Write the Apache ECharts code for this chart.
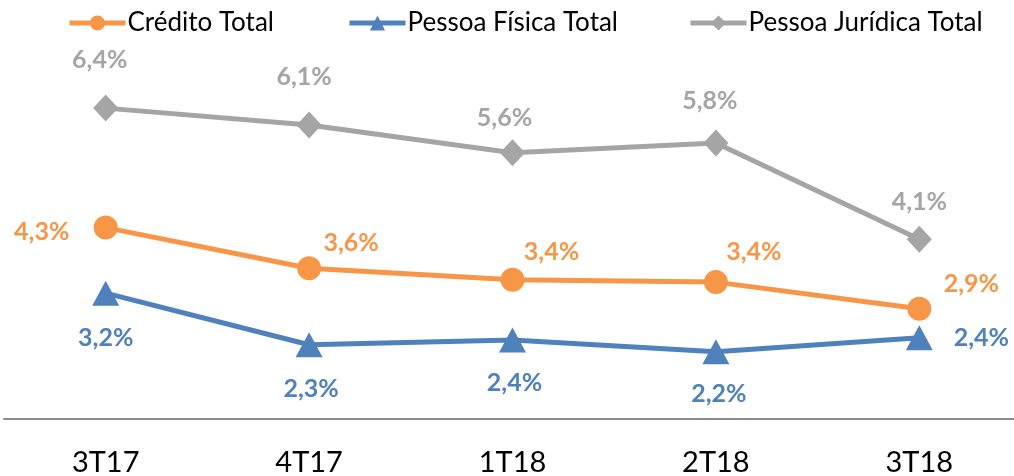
<!DOCTYPE html>
<html>
<head>
<meta charset="utf-8">
<script src="https://cdn.jsdelivr.net/npm/echarts@6/dist/echarts.min.js"></script>
<style>
html,body{margin:0;padding:0;background:#fff;}
#chart{width:1014px;height:476px;}
</style>
</head>
<body>
<div id="chart"></div>
<script>
var categories = ['3T17', '4T17', '1T18', '2T18', '3T18'];
var creditoTotal = [4.3, 3.6, 3.4, 3.36, 2.9];
var pessoaFisica = [3.17, 2.28, 2.36, 2.16, 2.4];
var pessoaJuridica = [6.36, 6.07, 5.59, 5.76, 4.1];
var seriesNames = ['Crédito Total', 'Pessoa Física Total', 'Pessoa Jurídica Total'];

// label placement (style only)
var offCredito = [[-64, 4], [42, -25], [39, -28], [38, -30], [52, -25]];
var offFisica = [[0, 45], [2, 44], [2, 43], [3, 42], [62, 0]];
var offJuridica = [[-6, -48], [-5, -48], [-8, -35], [-6, -42], [0, -37]];

var FONT = 'Lato';
function fmt(p) { return p.value.toFixed(1).replace('.', ',') + '%'; }
function items(vals, offs) {
  return vals.map(function (v, i) {
    return { value: v, label: { offset: offs[i] } };
  });
}
function mkLabel(color) {
  return { show: true, position: 'inside', formatter: fmt, color: color,
           fontFamily: FONT, fontWeight: 'bold', fontSize: 25 };
}
function mkLegend(name, left) {
  return { data: [name], left: left, top: 5, itemWidth: 56, itemHeight: 19, itemGap: 0,
           lineStyle: { width: 5 },
           textStyle: { fontFamily: FONT, fontSize: 26, color: '#000', padding: [0, 0, 0, -3] } };
}

var chart = echarts.init(document.getElementById('chart'), null, { renderer: 'canvas' });
chart.setOption({
  backgroundColor: '#fff',
  animation: false,
  legend: [mkLegend(seriesNames[0], 62), mkLegend(seriesNames[1], 342), mkLegend(seriesNames[2], 683)],
  grid: { left: 4, width: 1017, top: 71, height: 348, containLabel: false, outerBoundsMode: 'none' },
  xAxis: {
    type: 'category', data: categories, boundaryGap: true,
    axisLine: { lineStyle: { color: '#8c8c8c', width: 2 } },
    axisTick: { show: false },
    axisLabel: { fontFamily: FONT, fontSize: 29, color: '#000', margin: 29, lineHeight: 30 }
  },
  yAxis: {
    type: 'value', min: 1, max: 7, interval: 1, show: false, splitLine: { show: false }
  },
  series: [
    { name: seriesNames[0], type: 'line', data: items(creditoTotal, offCredito),
      symbol: 'circle', symbolSize: 24, color: '#F79646',
      lineStyle: { width: 5, color: '#F79646' }, itemStyle: { color: '#F79646' },
      label: mkLabel('#F79646'), z: 3 },
    { name: seriesNames[1], type: 'line', data: items(pessoaFisica, offFisica),
      symbol: 'triangle', symbolSize: [27, 25], color: '#4F81BD',
      lineStyle: { width: 5, color: '#4F81BD' }, itemStyle: { color: '#4F81BD' },
      label: mkLabel('#4F81BD'), z: 2 },
    { name: seriesNames[2], type: 'line', data: items(pessoaJuridica, offJuridica),
      symbol: 'diamond', symbolSize: [25, 27], color: '#A5A5A5',
      lineStyle: { width: 5, color: '#A5A5A5' }, itemStyle: { color: '#A5A5A5' },
      label: mkLabel('#A5A5A5'), z: 1 }
  ]
});
</script>
</body>
</html>
